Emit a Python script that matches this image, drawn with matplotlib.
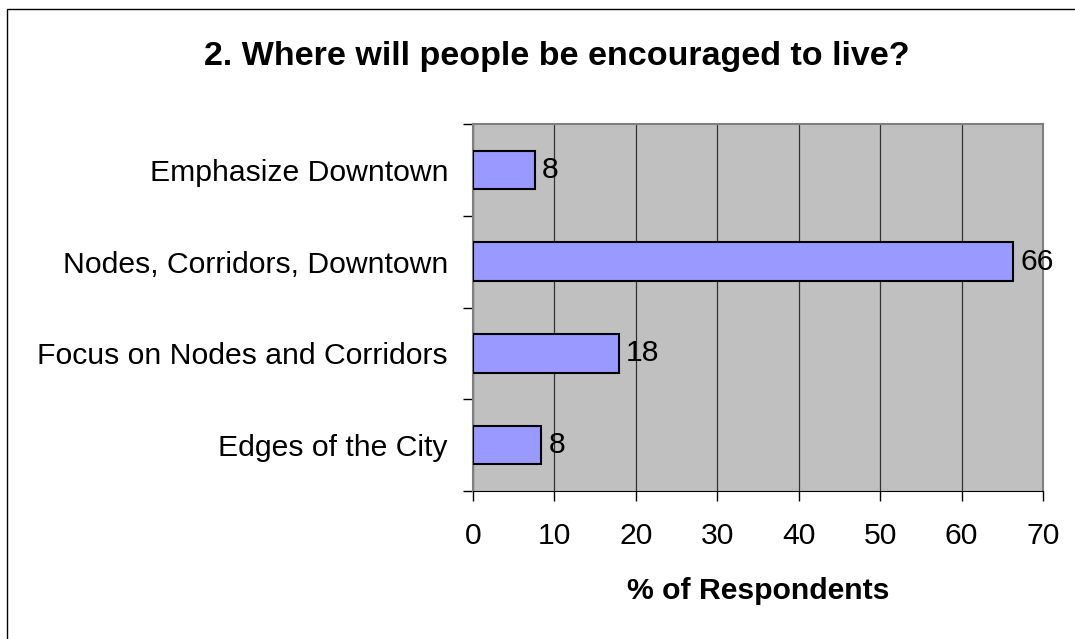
import matplotlib
matplotlib.use("Agg")
import matplotlib.pyplot as plt
from matplotlib.patches import Rectangle

plt.rcParams['font.family'] = ['Liberation Sans', 'DejaVu Sans']

categories = ['Edges of the City', 'Focus on Nodes and Corridors',
              'Nodes, Corridors, Downtown', 'Emphasize Downtown']
percents = [8.4, 17.9, 66.3, 7.6]
x_ticks = [0, 10, 20, 30, 40, 50, 60, 70]

fig = plt.figure(figsize=(10.75, 6.39), dpi=100)
W, H = 1075, 639

# outer chart frame (runs off the right and bottom edges)
fig.patches.append(Rectangle((7 / W, -0.1), 1.2, 1.1 - 9 / H, transform=fig.transFigure,
                             fill=False, edgecolor='black', linewidth=1.0))

ax = fig.add_axes([473 / W, 1 - 491 / H, (1043 - 473) / W, (491 - 124) / H])
ax.set_facecolor('#c0c0c0')

ypos = list(range(len(categories)))
bars = ax.barh(ypos, percents, height=0.42, color='#9999ff',
               edgecolor='black', linewidth=1.5, zorder=3)
for y, v in zip(ypos, percents):
    ax.text(v + 0.9, y, '%.0f' % v, va='center', ha='left', fontsize=21.7, zorder=4)

ax.set_xlim(0, 70)
ax.set_ylim(-0.5, len(categories) - 0.5)
ax.set_xticks(x_ticks)
ax.set_xticklabels([str(t) for t in x_ticks], fontsize=21.7)
ax.xaxis.grid(True, color='#333333', linewidth=0.9, zorder=1)
ax.set_axisbelow(True)

# category labels in the middle, tick marks at the boundaries
ax.set_yticks(ypos)
ax.set_yticklabels(categories, fontsize=21.7)
ax.tick_params(axis='y', which='major', length=0, pad=18)
ax.set_yticks([i - 0.5 for i in range(len(categories) + 1)], minor=True)
ax.tick_params(axis='y', which='minor', length=7, width=1, color='black')
ax.tick_params(axis='x', length=7, width=1, pad=15)

for side in ['top', 'right', 'left']:
    ax.spines[side].set_color('#808080')
    ax.spines[side].set_linewidth(1.5)
ax.spines['bottom'].set_color('black')

ax.set_xlabel('% of Respondents', fontsize=21.7, fontweight='bold', labelpad=20)
fig.text(0.518, 1 - 65 / H, '2. Where will people be encouraged to live?',
         ha='center', va='baseline', fontsize=24.5, fontweight='bold')

fig.savefig('out.png', dpi=100)
